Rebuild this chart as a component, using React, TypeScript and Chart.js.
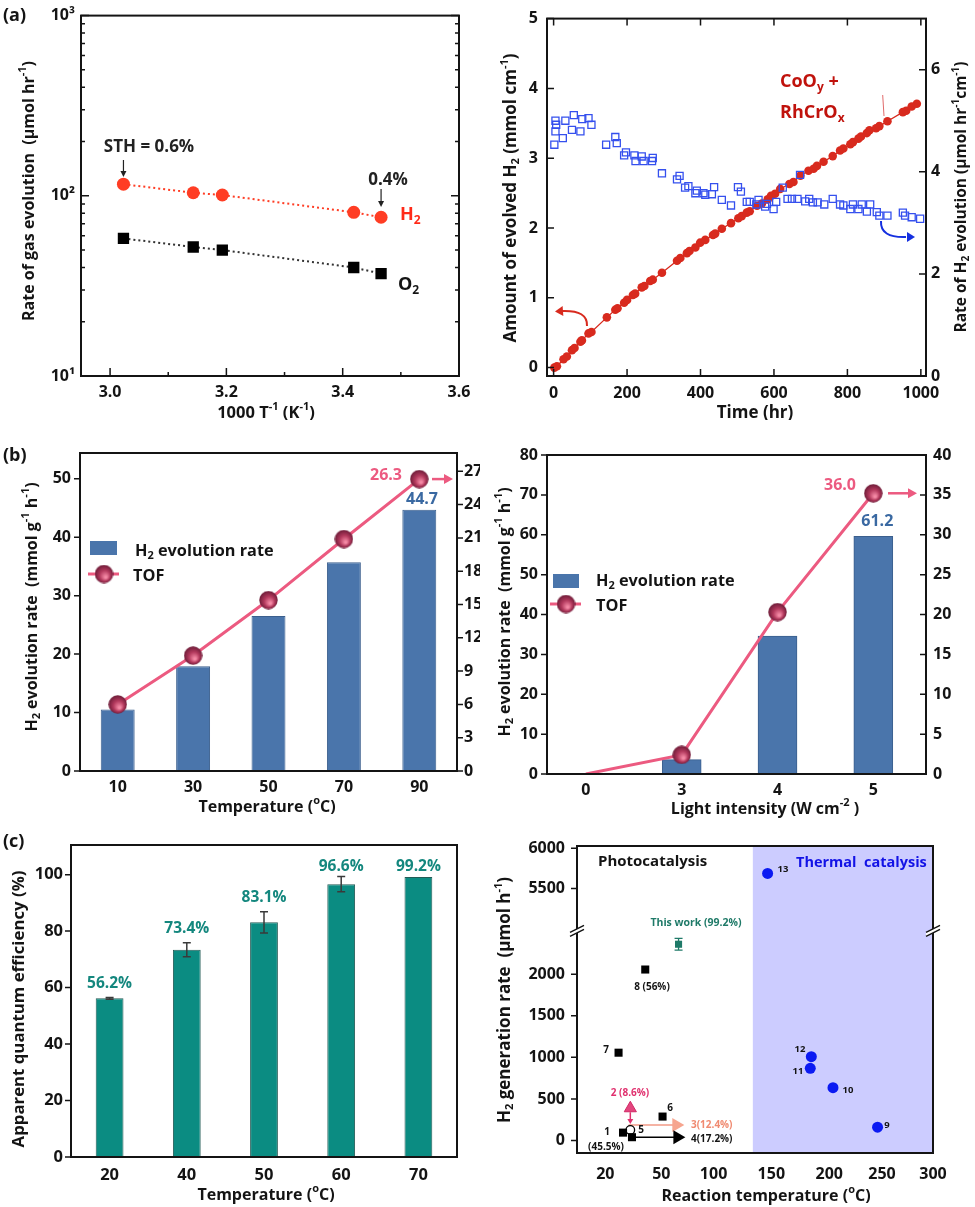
import React, { useEffect, useRef } from 'react';
import { Chart, registerables, LinearScale } from 'chart.js';

Chart.register(...registerables);

const FONT = '"Open Sans", "DejaVu Sans", Arial, sans-serif';
const INK = '#141414';

/* ================= DATA ================= */
// (a) left : rate vs 1000/T
const ARR_INV_T = [3.023, 3.143, 3.193, 3.419, 3.466];
const ARR_H2_RATE = [116, 104, 101, 81, 76];
const ARR_O2_RATE = [58, 52, 50, 40, 37];
const ARR_X_TICKS = [3.0, 3.2, 3.4, 3.6];
const ARR_X_MINOR = [3.1, 3.3, 3.5];
const ARR_Y_TICKS = [10, 100, 1000];
const ARR_Y_MINOR = [20, 30, 40, 50, 60, 70, 80, 90, 200, 300, 400, 500, 600, 700, 800, 900];
const ARR_Y_LABELS: Record<number, string> = { 10: '10¹', 100: '10²', 1000: '10³' };

// (a) right : long-term stability
const CUM_TIME = [2, 9, 27, 36, 50, 57, 73, 77, 95, 103, 145, 168, 174, 192, 200, 216, 222, 240, 247, 263, 270, 295, 336, 345, 363, 370, 386, 399, 413, 434, 440, 458, 483, 503, 512, 526, 534, 554, 567, 583, 592, 603, 617, 642, 653, 672, 694, 708, 717, 735, 760, 780, 789, 808, 815, 830, 837, 853, 860, 878, 887, 909, 951, 960, 975, 989];
const CUM_H2 = [0, 0.02, 0.12, 0.16, 0.25, 0.28, 0.37, 0.39, 0.49, 0.51, 0.72, 0.83, 0.85, 0.93, 0.97, 1.04, 1.06, 1.15, 1.17, 1.24, 1.26, 1.36, 1.53, 1.57, 1.64, 1.67, 1.72, 1.79, 1.83, 1.90, 1.92, 1.99, 2.07, 2.14, 2.17, 2.22, 2.24, 2.32, 2.35, 2.41, 2.46, 2.49, 2.56, 2.63, 2.66, 2.75, 2.82, 2.85, 2.89, 2.95, 3.03, 3.11, 3.14, 3.20, 3.23, 3.28, 3.31, 3.36, 3.40, 3.43, 3.46, 3.53, 3.66, 3.68, 3.74, 3.78];
const RATE_TIME = [2, 5, 7, 5, 25, 32, 50, 55, 73, 78, 95, 103, 143, 168, 172, 192, 197, 220, 223, 240, 245, 268, 270, 295, 336, 343, 358, 367, 386, 390, 408, 413, 431, 437, 458, 483, 502, 510, 526, 534, 552, 558, 576, 581, 599, 606, 624, 637, 649, 664, 671, 685, 696, 706, 719, 737, 760, 780, 789, 808, 815, 830, 839, 853, 862, 880, 887, 909, 951, 957, 975, 998];
const RATE_H2 = [4.53, 4.79, 4.92, 5.0, 4.66, 5.0, 4.82, 5.11, 4.79, 5.03, 5.05, 4.92, 4.53, 4.68, 4.56, 4.32, 4.38, 4.32, 4.21, 4.30, 4.21, 4.21, 4.27, 3.97, 3.85, 3.92, 3.69, 3.72, 3.58, 3.63, 3.58, 3.55, 3.56, 3.70, 3.45, 3.34, 3.70, 3.61, 3.41, 3.41, 3.36, 3.45, 3.32, 3.37, 3.27, 3.41, 3.69, 3.47, 3.47, 3.47, 3.94, 3.42, 3.47, 3.40, 3.40, 3.36, 3.47, 3.36, 3.34, 3.27, 3.36, 3.27, 3.36, 3.22, 3.36, 3.21, 3.14, 3.14, 3.20, 3.14, 3.11, 3.08];
const TIME_TICKS = [0, 200, 400, 600, 800, 1000];
const CUM_TICKS = [0, 1, 2, 3, 4, 5];
const RATE_TICKS = [0, 2, 4, 6];

// (b) left : temperature dependence
const TEMP_LABELS = ['10', '30', '50', '70', '90'];
const TEMP_RATE = [10.5, 17.9, 26.5, 35.7, 44.7];
const TEMP_TOF = [6.0, 10.4, 15.4, 20.9, 26.3];
const TEMP_RATE_TICKS = [0, 10, 20, 30, 40, 50];
const TEMP_TOF_TICKS = [0, 3, 6, 9, 12, 15, 18, 21, 24, 27];

// (b) right : light intensity dependence
const LIGHT_LABELS = ['0', '3', '4', '5'];
const LIGHT_RATE = [0, 3.6, 34.6, 59.6];
const LIGHT_TOF = [0, 2.4, 20.3, 35.2];
const LIGHT_RATE_TICKS = [0, 10, 20, 30, 40, 50, 60, 70, 80];
const LIGHT_TOF_TICKS = [0, 5, 10, 15, 20, 25, 30, 35, 40];

// (c) left : apparent quantum efficiency
const AQE_LABELS = ['20', '40', '50', '60', '70'];
const AQE_VALUES = [56.2, 73.4, 83.1, 96.6, 99.2];
const AQE_ERR = [0.3, 2.5, 3.8, 2.7, 0];
const AQE_TICKS = [0, 20, 40, 60, 80, 100];

// (c) right : comparison with literature
const PHOTO_T = [27.1, 29.5, 34.3, 41.4, 51.2];
const PHOTO_RATE = [1056, 95, 40, 2056, 288];
const REF5_T = [33.4];
const REF5_RATE = [127];
const REF2_T = [33.4];
const REF2_RATE = [388];
const REF3_T = [32.5, 72];
const REF3_RATE = [187, 187];
const REF4_T = [34.3, 73];
const REF4_RATE = [40, 40];
const WORK_T = [66.5];
const WORK_RATE = [2360];
const WORK_ERR = [70];
const THERMAL_T = [146.8, 184.5, 183.6, 203.5, 245.8];
const THERMAL_RATE = [5687, 1008, 868, 636, 160];
const THERMAL_FROM_T = 134;
const C2_X_TICKS = [20, 50, 100, 150, 200, 250, 300];
const C2_Y_TICKS = [0, 500, 1000, 1500, 2000, 5500, 6000];
// irregular temperature axis and broken rate axis (value knots -> axis fraction)
const C2_TEMP_KNOTS = [5, 20, 50, 100, 150, 200, 250, 300];
const C2_TEMP_FRACS = [0, 0.0795, 0.2368, 0.3837, 0.5458, 0.7087, 0.8567, 1];
const C2_RATE_KNOTS = [-150, 2508, 4958, 6029];
const C2_RATE_FRACS = [0, 0.7201, 0.7201, 1];

/* ================= helpers ================= */
function mapPw(v: number, from: number[], to: number[]) {
  const n = from.length;
  if (v <= from[0]) {
    const k = (to[1] - to[0]) / ((from[1] - from[0]) || 1);
    return to[0] + (v - from[0]) * k;
  }
  for (let i = 1; i < n; i++) {
    if (v <= from[i]) {
      const d = from[i] - from[i - 1];
      if (d === 0) return to[i];
      return to[i - 1] + ((v - from[i - 1]) / d) * (to[i] - to[i - 1]);
    }
  }
  const k = (to[n - 1] - to[n - 2]) / ((from[n - 1] - from[n - 2]) || 1);
  return to[n - 1] + (v - from[n - 1]) * k;
}

function makePiecewise(id: string, vals: number[], fracs: number[]) {
  class Pw extends LinearScale {
    getPixelForValue(value: number) {
      return (this as any).getPixelForDecimal(mapPw(value, vals, fracs));
    }
    getValueForPixel(pixel: number) {
      return mapPw((this as any).getDecimalForPixel(pixel), fracs, vals);
    }
  }
  (Pw as any).id = id;
  (Pw as any).defaults = {};
  return Pw;
}
const PwTemp = makePiecewise('pwtemp', C2_TEMP_KNOTS, C2_TEMP_FRACS);
const PwRate = makePiecewise('pwrate', C2_RATE_KNOTS, C2_RATE_FRACS);
Chart.register(PwTemp as any, PwRate as any);

type Rect = { x: number; y: number; w: number; h: number };
type Area = { L: number; R: number; T: number; B: number };

function pinned(rect: Rect, area: Area, hasRight: boolean) {
  return {
    padding: { top: area.T - rect.y, left: 0, bottom: 0, right: hasRight ? 0 : rect.x + rect.w - area.R },
    leftFit: (s: any) => { s.width = area.L - rect.x; },
    rightFit: (s: any) => { s.width = rect.x + rect.w - area.R; },
    bottomFit: (s: any) => { s.height = rect.y + rect.h - area.B; },
  };
}

const fixTicks = (vals: number[]) => (s: any) => { s.ticks = vals.map((v) => ({ value: v })); };

function axis(extra: any, size: number, padding: number, callback?: (v: any, i: number) => string) {
  const t: any = { font: { family: FONT, size, weight: 'bold' }, color: INK, padding, autoSkip: false, maxRotation: 0, minRotation: 0 };
  if (callback) t.callback = callback;
  return { grid: { display: false, drawTicks: false }, border: { display: false }, ...extra, ticks: t };
}

function pageArea(c: any, rect: Rect): Area {
  const a = c.chartArea;
  return { L: a.left + rect.x, R: a.right + rect.x, T: a.top + rect.y, B: a.bottom + rect.y };
}

function overlay(rect: Rect, after: (ctx: CanvasRenderingContext2D, c: any) => void, before?: (ctx: CanvasRenderingContext2D, c: any) => void) {
  return {
    id: 'overlay',
    beforeDatasetsDraw(c: any) {
      if (!before) return;
      const ctx = c.ctx; ctx.save(); ctx.translate(-rect.x, -rect.y); before(ctx, c); ctx.restore();
    },
    afterDraw(c: any) {
      const ctx = c.ctx; ctx.save(); ctx.translate(-rect.x, -rect.y); after(ctx, c); ctx.restore();
    },
  };
}

function parseRich(s: string) {
  const out: { t: string; m: number }[] = [];
  let i = 0; let buf = '';
  while (i < s.length) {
    const ch = s[i];
    if ((ch === '_' || ch === '^') && s[i + 1] === '{') {
      if (buf) { out.push({ t: buf, m: 0 }); buf = ''; }
      const end = s.indexOf('}', i + 2);
      out.push({ t: s.slice(i + 2, end), m: ch === '^' ? 1 : -1 });
      i = end + 1;
    } else { buf += ch; i++; }
  }
  if (buf) out.push({ t: buf, m: 0 });
  return out;
}

function rich(ctx: CanvasRenderingContext2D, text: string, x: number, y: number, size: number, color: string, align = 'center', rot = 0, weight = 'bold') {
  const segs = parseRich(text);
  ctx.save();
  ctx.translate(x, y);
  if (rot) ctx.rotate(rot);
  const f = (m: number) => `${weight} ${m === 0 ? size : Math.round(size * 0.66)}px ${FONT}`;
  let w = 0;
  for (const s of segs) { ctx.font = f(s.m); w += ctx.measureText(s.t).width; }
  let cx = align === 'center' ? -w / 2 : align === 'right' ? -w : 0;
  ctx.fillStyle = color; ctx.textAlign = 'left'; ctx.textBaseline = 'middle';
  for (const s of segs) {
    ctx.font = f(s.m);
    const dy = s.m === 1 ? -size * 0.36 : s.m === -1 ? size * 0.3 : 0;
    ctx.fillText(s.t, cx, dy);
    cx += ctx.measureText(s.t).width;
  }
  ctx.restore();
}

function frame(ctx: CanvasRenderingContext2D, a: Area, lw: number) {
  ctx.save(); ctx.strokeStyle = INK; ctx.lineWidth = lw;
  ctx.strokeRect(a.L, a.T, a.R - a.L, a.B - a.T);
  ctx.restore();
}

function hTicks(ctx: CanvasRenderingContext2D, ys: number[], x0: number, len: number, lw = 1.5) {
  ctx.save(); ctx.strokeStyle = INK; ctx.lineWidth = lw; ctx.beginPath();
  for (const y of ys) { ctx.moveTo(x0, y); ctx.lineTo(x0 + len, y); }
  ctx.stroke(); ctx.restore();
}
function vTicks(ctx: CanvasRenderingContext2D, xs: number[], y0: number, len: number, lw = 1.5) {
  ctx.save(); ctx.strokeStyle = INK; ctx.lineWidth = lw; ctx.beginPath();
  for (const x of xs) { ctx.moveTo(x, y0); ctx.lineTo(x, y0 + len); }
  ctx.stroke(); ctx.restore();
}

function arrowHead(ctx: CanvasRenderingContext2D, x: number, y: number, ang: number, len: number, hw: number, color: string) {
  ctx.save(); ctx.fillStyle = color; ctx.beginPath();
  ctx.moveTo(x, y);
  ctx.lineTo(x - len * Math.cos(ang) + hw * Math.sin(ang), y - len * Math.sin(ang) - hw * Math.cos(ang));
  ctx.lineTo(x - len * Math.cos(ang) - hw * Math.sin(ang), y - len * Math.sin(ang) + hw * Math.cos(ang));
  ctx.closePath(); ctx.fill(); ctx.restore();
}

function arrow(ctx: CanvasRenderingContext2D, x1: number, y1: number, x2: number, y2: number, color: string, lw: number, len: number, hw: number, headColor?: string) {
  const ang = Math.atan2(y2 - y1, x2 - x1);
  ctx.save(); ctx.strokeStyle = color; ctx.lineWidth = lw; ctx.beginPath();
  ctx.moveTo(x1, y1); ctx.lineTo(x2 - Math.cos(ang) * len * 0.7, y2 - Math.sin(ang) * len * 0.7); ctx.stroke();
  ctx.restore();
  arrowHead(ctx, x2, y2, ang, len, hw, headColor || color);
}

function curvedArrow(ctx: CanvasRenderingContext2D, x1: number, y1: number, cx: number, cy: number, x2: number, y2: number, tipX: number, tipY: number, color: string, lw: number) {
  ctx.save(); ctx.strokeStyle = color; ctx.lineWidth = lw; ctx.beginPath();
  ctx.moveTo(x1, y1); ctx.quadraticCurveTo(cx, cy, x2, y2); ctx.stroke(); ctx.restore();
  arrowHead(ctx, tipX, tipY, Math.atan2(tipY - y2, tipX - x2), 8, 5, color);
}

let sphereCache: HTMLCanvasElement | null = null;
function sphere(): HTMLCanvasElement {
  if (sphereCache) return sphereCache;
  const d = 19;
  const c = document.createElement('canvas'); c.width = d; c.height = d;
  const g = c.getContext('2d')!; const r = d / 2;
  const grad = g.createRadialGradient(r * 1.2, r * 1.35, r * 0.1, r, r, r);
  grad.addColorStop(0, '#f58aa6'); grad.addColorStop(0.5, '#b3395d'); grad.addColorStop(1, '#6a1a36');
  g.fillStyle = grad; g.beginPath(); g.arc(r, r, r - 0.3, 0, Math.PI * 2); g.fill();
  sphereCache = c; return c;
}

const baseOpts = (pad: any) => ({
  animation: false as const, responsive: false, events: [] as any[],
  layout: { padding: pad },
  plugins: { legend: { display: false }, tooltip: { enabled: false } },
});

/* ================= panels ================= */
const R_A1: Rect = { x: 0, y: 0, w: 480, h: 420 };
const A_A1: Area = { L: 81, R: 459, T: 14, B: 376 };
function buildA1(canvas: HTMLCanvasElement) {
  const rect = R_A1; const pin = pinned(rect, A_A1, false);
  const X = (c: any, v: number) => c.scales.x.getPixelForValue(v) + rect.x;
  const Y = (c: any, v: number) => c.scales.y.getPixelForValue(v) + rect.y;
  return new Chart(canvas, {
    type: 'scatter',
    data: {
      datasets: [
        { data: ARR_INV_T.map((x, i) => ({ x, y: ARR_H2_RATE[i] })), showLine: true, borderColor: '#ff3d24', borderWidth: 2, borderDash: [2, 3], pointStyle: 'circle', pointRadius: 6.5, pointBackgroundColor: '#ff3d24', pointBorderWidth: 0 },
        { data: ARR_INV_T.map((x, i) => ({ x, y: ARR_O2_RATE[i] })), showLine: true, borderColor: '#333333', borderWidth: 2, borderDash: [2, 3], pointStyle: 'rect', pointRadius: 8, pointBackgroundColor: '#000000', pointBorderWidth: 0 },
      ],
    } as any,
    options: {
      ...baseOpts(pin.padding),
      scales: {
        x: axis({ type: 'linear', min: 2.95, max: 3.6, afterBuildTicks: fixTicks(ARR_X_TICKS), afterFit: pin.bottomFit }, 16, 7, (v) => Number(v).toFixed(1)),
        y: axis({ type: 'logarithmic', min: 10, max: 1000, afterBuildTicks: fixTicks(ARR_Y_TICKS), afterFit: pin.leftFit }, 16, 6, (v) => ARR_Y_LABELS[Number(v)] || ''),
      },
    } as any,
    plugins: [overlay(rect, (ctx, c) => {
      const a = pageArea(c, rect);
      frame(ctx, a, 2);
      const ys = ARR_Y_TICKS.map((v) => Y(c, v)); const ym = ARR_Y_MINOR.map((v) => Y(c, v));
      hTicks(ctx, ys, a.L, 8); hTicks(ctx, ys, a.R, -8); hTicks(ctx, ym, a.L, 4); hTicks(ctx, ym, a.R, -4);
      vTicks(ctx, ARR_X_TICKS.map((v) => X(c, v)), a.B, -8); vTicks(ctx, ARR_X_MINOR.map((v) => X(c, v)), a.B, -4);
      rich(ctx, '(a)', 3, 16, 18, INK, 'left');
      rich(ctx, 'STH = 0.6%', 149, 147, 17, '#222', 'center');
      arrow(ctx, X(c, ARR_INV_T[0]), 160, X(c, ARR_INV_T[0]), 177, '#222', 1.2, 6, 3);
      rich(ctx, '0.4%', 388, 180, 17, '#222', 'center');
      arrow(ctx, X(c, ARR_INV_T[4]), 189, X(c, ARR_INV_T[4]), 207, '#222', 1.2, 6, 3);
      rich(ctx, 'H_{2}', 400, 215, 18, '#ff2a18', 'left');
      rich(ctx, 'O_{2}', 398, 285, 18, INK, 'left');
      rich(ctx, '1000 T^{-1} (K^{-1})', 266, 413, 16.5, INK, 'center');
      rich(ctx, 'Rate of gas evolution  (µmol hr^{-1})', 29, 191, 16, INK, 'center', -Math.PI / 2);
    })],
  });
}

const R_A2: Rect = { x: 480, y: 0, w: 495, h: 420 };
const A_A2: Area = { L: 547, R: 926, T: 14, B: 376 };
function buildA2(canvas: HTMLCanvasElement) {
  const rect = R_A2; const pin = pinned(rect, A_A2, true);
  const X = (c: any, v: number) => c.scales.x.getPixelForValue(v) + rect.x;
  const Y = (c: any, id: string, v: number) => c.scales[id].getPixelForValue(v) + rect.y;
  return new Chart(canvas, {
    type: 'scatter',
    data: {
      datasets: [
        { data: RATE_TIME.map((x, i) => ({ x, y: RATE_H2[i] })), yAxisID: 'y1', order: 0, pointStyle: 'rect', pointRadius: 5, pointBackgroundColor: 'rgba(255,255,255,0)', pointBorderColor: '#3550ee', pointBorderWidth: 1.3 },
        { data: CUM_TIME.map((x, i) => ({ x, y: CUM_H2[i] })), yAxisID: 'y', order: 1, showLine: true, borderColor: '#d82a1e', borderWidth: 1.3, pointStyle: 'circle', pointRadius: 4.3, pointBackgroundColor: '#d82a1e', pointBorderWidth: 0 },
      ],
    } as any,
    options: {
      ...baseOpts(pin.padding),
      scales: {
        x: axis({ type: 'linear', min: -18, max: 1014, afterBuildTicks: fixTicks(TIME_TICKS), afterFit: pin.bottomFit }, 16, 8, (v) => String(v)),
        y: axis({ type: 'linear', position: 'left', min: -0.12, max: 5, afterBuildTicks: fixTicks(CUM_TICKS), afterFit: pin.leftFit }, 16, 9, (v) => String(v)),
        y1: axis({ type: 'linear', position: 'right', min: 0, max: 7, afterBuildTicks: fixTicks(RATE_TICKS), afterFit: pin.rightFit }, 16, 5, (v) => String(v)),
      },
    } as any,
    plugins: [overlay(rect, (ctx, c) => {
      const a = pageArea(c, rect);
      frame(ctx, a, 2);
      const xs = TIME_TICKS.map((v) => X(c, v));
      vTicks(ctx, xs, a.T, 7); vTicks(ctx, xs, a.B, -7);
      hTicks(ctx, CUM_TICKS.map((v) => Y(c, 'y', v)), a.L, 7);
      hTicks(ctx, RATE_TICKS.map((v) => Y(c, 'y1', v)), a.R, -7);
      rich(ctx, 'CoO_{y} +', 780, 82, 18, '#c0120c', 'left');
      rich(ctx, 'RhCrO_{x}', 780, 113, 18, '#c0120c', 'left');
      ctx.save(); ctx.strokeStyle = '#e06a6a'; ctx.lineWidth = 1; ctx.beginPath(); ctx.moveTo(882.7, 95); ctx.lineTo(884, 116); ctx.stroke(); ctx.restore();
      curvedArrow(ctx, 587, 326, 588, 310, 562, 311, 555, 311.5, '#d82a1e', 2);
      curvedArrow(ctx, 881, 221, 880, 238, 906, 237, 915, 237, '#1530e0', 2);
      rich(ctx, 'Time (hr)', 755, 413, 17, INK, 'center');
      rich(ctx, 'Amount of evolved H_{2} (mmol cm^{-1})', 511, 198, 17, INK, 'center', -Math.PI / 2);
      rich(ctx, 'Rate of H_{2} evolution (µmol hr^{-1}cm^{-1})', 962, 197, 15.5, INK, 'center', -Math.PI / 2);
    })],
  });
}

const PINK = '#ec5a80';
const BAR_BLUE = '#4a75ab';
const LABEL_BLUE = '#3a69a2';

const R_B1: Rect = { x: 0, y: 420, w: 480, h: 400 };
const A_B1: Area = { L: 80, R: 457, T: 453, B: 771 };
function buildB1(canvas: HTMLCanvasElement) {
  const rect = R_B1; const pin = pinned(rect, A_B1, true);
  const Y = (c: any, id: string, v: number) => c.scales[id].getPixelForValue(v) + rect.y;
  return new Chart(canvas, {
    type: 'bar',
    data: {
      labels: TEMP_LABELS,
      datasets: [
        { type: 'bar', data: TEMP_RATE, yAxisID: 'y', order: 1, backgroundColor: BAR_BLUE, borderColor: '#3b5f8d', borderWidth: 1, barPercentage: 0.45, categoryPercentage: 1 },
        { type: 'line', data: TEMP_TOF, yAxisID: 'y1', order: 0, borderColor: PINK, borderWidth: 3, pointStyle: sphere(), pointRadius: 9 },
      ],
    } as any,
    options: {
      ...baseOpts(pin.padding),
      scales: {
        x: axis({ type: 'category', afterFit: pin.bottomFit }, 16, 7),
        y: axis({ type: 'linear', position: 'left', min: 0, max: 54.4, afterBuildTicks: fixTicks(TEMP_RATE_TICKS), afterFit: pin.leftFit }, 16, 9, (v) => String(v)),
        y1: axis({ type: 'linear', position: 'right', min: 0, max: 28.65, afterBuildTicks: fixTicks(TEMP_TOF_TICKS), afterFit: pin.rightFit }, 16, 7, (v) => String(v)),
      },
    } as any,
    plugins: [overlay(rect, (ctx, c) => {
      const a = pageArea(c, rect);
      frame(ctx, a, 2);
      hTicks(ctx, TEMP_RATE_TICKS.map((v) => Y(c, 'y', v)), a.L, -6);
      hTicks(ctx, TEMP_TOF_TICKS.map((v) => Y(c, 'y1', v)), a.R, 6);
      rich(ctx, '(b)', 3, 456, 18, INK, 'left');
      ctx.save(); ctx.fillStyle = BAR_BLUE; ctx.fillRect(90, 541, 27, 14); ctx.restore();
      rich(ctx, 'H_{2} evolution rate', 135, 551, 16.3, INK, 'left');
      ctx.save(); ctx.strokeStyle = PINK; ctx.lineWidth = 3; ctx.beginPath(); ctx.moveTo(88, 574); ctx.lineTo(119, 574); ctx.stroke(); ctx.restore();
      ctx.drawImage(sphere(), 104 - 9.5, 574 - 9.5);
      rich(ctx, 'TOF', 133, 576, 16.3, INK, 'left');
      const last = TEMP_TOF.length - 1;
      const ty = Y(c, 'y1', TEMP_TOF[last]);
      rich(ctx, TEMP_TOF[last].toFixed(1), 402, ty - 4, 16, PINK, 'right');
      rich(ctx, TEMP_RATE[last].toFixed(1), 422, Y(c, 'y', TEMP_RATE[last]) - 10, 16, LABEL_BLUE, 'center');
      arrow(ctx, 432, ty, 453, ty, PINK, 2.5, 9, 5);
      rich(ctx, 'H_{2} evolution rate  (mmol g^{-1} h^{-1})', 32, 607, 16, INK, 'center', -Math.PI / 2);
      rich(ctx, 'Temperature (^{o}C)', 267, 807, 16, INK, 'center');
    })],
  });
}

const R_B2: Rect = { x: 480, y: 420, w: 495, h: 400 };
const A_B2: Area = { L: 547, R: 926, T: 455, B: 774 };
function buildB2(canvas: HTMLCanvasElement) {
  const rect = R_B2; const pin = pinned(rect, A_B2, true);
  const Y = (c: any, id: string, v: number) => c.scales[id].getPixelForValue(v) + rect.y;
  const X = (c: any, v: number) => c.scales.x.getPixelForValue(v) + rect.x;
  return new Chart(canvas, {
    type: 'bar',
    data: {
      datasets: [
        { type: 'bar', data: LIGHT_RATE.map((y, i) => ({ x: i, y })), yAxisID: 'y', order: 1, backgroundColor: BAR_BLUE, borderColor: '#3b5f8d', borderWidth: 1, barThickness: 39 },
        { type: 'line', data: LIGHT_TOF.map((y, i) => ({ x: i, y })), yAxisID: 'y1', order: 0, borderColor: PINK, borderWidth: 3, pointStyle: sphere(), pointRadius: LIGHT_TOF.map((v, i) => (i === 0 ? 0 : 9)) },
      ],
    } as any,
    options: {
      ...baseOpts(pin.padding),
      scales: {
        x: axis({ type: 'linear', offset: false, min: -0.406, max: 3.55, afterBuildTicks: fixTicks(LIGHT_LABELS.map((_, i) => i)), afterFit: pin.bottomFit }, 16, 7, (v) => LIGHT_LABELS[Math.round(Number(v))] ?? ''),
        y: axis({ type: 'linear', position: 'left', min: 0, max: 80, afterBuildTicks: fixTicks(LIGHT_RATE_TICKS), afterFit: pin.leftFit }, 16, 9, (v) => String(v)),
        y1: axis({ type: 'linear', position: 'right', min: 0, max: 40, afterBuildTicks: fixTicks(LIGHT_TOF_TICKS), afterFit: pin.rightFit }, 16, 7, (v) => String(v)),
      },
    } as any,
    plugins: [overlay(rect, (ctx, c) => {
      const a = pageArea(c, rect);
      frame(ctx, a, 2);
      hTicks(ctx, LIGHT_RATE_TICKS.map((v) => Y(c, 'y', v)), a.L, -6);
      hTicks(ctx, LIGHT_TOF_TICKS.map((v) => Y(c, 'y1', v)), a.R, -6);
      ctx.save(); ctx.fillStyle = BAR_BLUE; ctx.fillRect(553, 574, 26, 14); ctx.restore();
      rich(ctx, 'H_{2} evolution rate', 596, 581, 16.3, INK, 'left');
      ctx.save(); ctx.strokeStyle = PINK; ctx.lineWidth = 3; ctx.beginPath(); ctx.moveTo(550, 604); ctx.lineTo(581, 604); ctx.stroke(); ctx.restore();
      ctx.drawImage(sphere(), 566 - 9.5, 604 - 9.5);
      rich(ctx, 'TOF', 596, 606, 16.3, INK, 'left');
      const last = LIGHT_TOF.length - 1;
      const ty = Y(c, 'y1', LIGHT_TOF[last]);
      rich(ctx, '36.0', 856, ty - 8, 16, PINK, 'right');
      rich(ctx, '61.2', X(c, last) + 4, Y(c, 'y', LIGHT_RATE[last]) - 15, 16, LABEL_BLUE, 'center');
      arrow(ctx, 888, ty, 917, ty, PINK, 2.5, 9, 5);
      rich(ctx, 'H_{2} evolution rate  (mmol g^{-1} h^{-1})', 505, 612, 16, INK, 'center', -Math.PI / 2);
      rich(ctx, 'Light intensity (W cm^{-2} )', 765, 809, 16, INK, 'center');
    })],
  });
}

const TEAL = '#0b8c82';
const TEAL_TEXT = '#14877e';
const R_C1: Rect = { x: 0, y: 820, w: 480, h: 387 };
const A_C1: Area = { L: 71, R: 457, T: 845, B: 1157 };
function buildC1(canvas: HTMLCanvasElement) {
  const rect = R_C1; const pin = pinned(rect, A_C1, false);
  const Y = (c: any, v: number) => c.scales.y.getPixelForValue(v) + rect.y;
  return new Chart(canvas, {
    type: 'bar',
    data: {
      labels: AQE_LABELS,
      datasets: [{ data: AQE_VALUES, backgroundColor: TEAL, borderColor: '#245b56', borderWidth: 1, barPercentage: 0.36, categoryPercentage: 1 }],
    } as any,
    options: {
      ...baseOpts(pin.padding),
      scales: {
        x: axis({ type: 'category', afterFit: pin.bottomFit }, 16.5, 8),
        y: axis({ type: 'linear', min: 0, max: 110.5, afterBuildTicks: fixTicks(AQE_TICKS), afterFit: pin.leftFit }, 16.5, 8, (v) => String(v)),
      },
    } as any,
    plugins: [overlay(rect, (ctx, c) => {
      const a = pageArea(c, rect);
      frame(ctx, a, 2);
      hTicks(ctx, AQE_TICKS.map((v) => Y(c, v)), a.L, -6);
      const meta = c.getDatasetMeta(0);
      AQE_VALUES.forEach((v, i) => {
        const x = meta.data[i].x + rect.x;
        const e = AQE_ERR[i];
        if (e > 0) {
          ctx.save(); ctx.strokeStyle = '#3a3a3a'; ctx.lineWidth = 1.5; ctx.beginPath();
          ctx.moveTo(x, Y(c, v - e)); ctx.lineTo(x, Y(c, v + e));
          ctx.moveTo(x - 4, Y(c, v - e)); ctx.lineTo(x + 4, Y(c, v - e));
          ctx.moveTo(x - 4, Y(c, v + e)); ctx.lineTo(x + 4, Y(c, v + e));
          ctx.stroke(); ctx.restore();
        }
        const ly = Math.max(Y(c, v + e) - 14, a.T + 22);
        rich(ctx, v.toFixed(1) + '%', x, ly, 15.5, TEAL_TEXT, 'center');
      });
      rich(ctx, '(c)', 3, 842, 18, INK, 'left');
      rich(ctx, 'Apparent quantum efficiency (%)', 19, 1009, 16.8, INK, 'center', -Math.PI / 2);
      rich(ctx, 'Temperature (^{o}C)', 266, 1195, 16, INK, 'center');
    })],
  });
}

const R_C2: Rect = { x: 480, y: 820, w: 495, h: 387 };
const A_C2: Area = { L: 577, R: 933, T: 846, B: 1153 };
function buildC2(canvas: HTMLCanvasElement) {
  const rect = R_C2; const pin = pinned(rect, A_C2, false);
  const X = (c: any, v: number) => c.scales.x.getPixelForValue(v) + rect.x;
  const Y = (c: any, v: number) => c.scales.y.getPixelForValue(v) + rect.y;
  const pts = (xs: number[], ys: number[]) => xs.map((x, i) => ({ x, y: ys[i] }));
  return new Chart(canvas, {
    type: 'scatter',
    data: {
      datasets: [
        { data: pts(PHOTO_T, PHOTO_RATE), pointStyle: 'rect', pointRadius: 5.7, pointBackgroundColor: '#000', pointBorderWidth: 0 },
        { data: pts(REF5_T, REF5_RATE), pointStyle: 'circle', pointRadius: 4.3, pointBackgroundColor: '#fff', pointBorderColor: '#000', pointBorderWidth: 1.3 },
        { data: pts(REF2_T, REF2_RATE), pointStyle: 'triangle', pointRadius: 7, pointBackgroundColor: '#e3457e', pointBorderColor: '#d02a66', pointBorderWidth: 1 },
        { data: pts(WORK_T, WORK_RATE), pointStyle: 'rect', pointRadius: 5, pointBackgroundColor: '#1f7a68', pointBorderWidth: 0 },
        { data: pts(THERMAL_T, THERMAL_RATE), pointStyle: 'circle', pointRadius: 5.5, pointBackgroundColor: '#0b1af2', pointBorderWidth: 0 },
      ],
    } as any,
    options: {
      ...baseOpts(pin.padding),
      scales: {
        x: axis({ type: 'pwtemp', position: 'bottom', min: C2_TEMP_KNOTS[0], max: C2_TEMP_KNOTS[C2_TEMP_KNOTS.length - 1], afterBuildTicks: fixTicks(C2_X_TICKS), afterFit: pin.bottomFit }, 16, 12, (v) => String(v)),
        y: axis({ type: 'pwrate', position: 'left', min: C2_RATE_KNOTS[0], max: C2_RATE_KNOTS[C2_RATE_KNOTS.length - 1], afterBuildTicks: fixTicks(C2_Y_TICKS), afterFit: pin.leftFit }, 16, 12, (v) => String(v)),
      },
    } as any,
    plugins: [overlay(rect, (ctx, c) => {
      const a = pageArea(c, rect);
      frame(ctx, a, 2);
      hTicks(ctx, C2_Y_TICKS.map((v) => Y(c, v)), a.L, -6);
      // axis break marks
      const yb = Y(c, C2_RATE_KNOTS[1]);
      for (const xb of [a.L, a.R]) {
        ctx.save();
        ctx.fillStyle = '#fff'; ctx.beginPath();
        ctx.moveTo(xb - 7, yb + 4.5); ctx.lineTo(xb + 7, yb - 2.5); ctx.lineTo(xb + 7, yb - 6.5); ctx.lineTo(xb - 7, yb + 0.5); ctx.closePath(); ctx.fill();
        ctx.strokeStyle = INK; ctx.lineWidth = 1.5; ctx.beginPath();
        ctx.moveTo(xb - 7, yb + 4.5); ctx.lineTo(xb + 7, yb - 2.5);
        ctx.moveTo(xb - 7, yb + 0.5); ctx.lineTo(xb + 7, yb - 6.5);
        ctx.stroke(); ctx.restore();
      }
      // this work error bar
      const wx = X(c, WORK_T[0]);
      ctx.save(); ctx.strokeStyle = '#1f7a68'; ctx.lineWidth = 1.3; ctx.beginPath();
      const w1 = Y(c, WORK_RATE[0] - WORK_ERR[0]); const w2 = Y(c, WORK_RATE[0] + WORK_ERR[0]);
      ctx.moveTo(wx, w1); ctx.lineTo(wx, w2); ctx.moveTo(wx - 4, w1); ctx.lineTo(wx + 4, w1); ctx.moveTo(wx - 4, w2); ctx.lineTo(wx + 4, w2);
      ctx.stroke(); ctx.restore();
      // labels
      rich(ctx, 'Photocatalysis', 598, 862, 15, INK, 'left');
      rich(ctx, 'Thermal  catalysis', 796, 863, 14.5, '#1212e6', 'left');
      const s = 10;
      rich(ctx, '13', 783, 869, 9.5, INK, 'center');
      rich(ctx, '12', 800, 1049, 9.5, INK, 'center');
      rich(ctx, '11', 798, 1071, 9.5, INK, 'center');
      rich(ctx, '10', 848, 1090, 9.5, INK, 'center');
      rich(ctx, '9', 887, 1125, 9.5, INK, 'center');
      rich(ctx, '7', 606, 1050, s, INK, 'center');
      rich(ctx, '1', 607, 1132, s, INK, 'center');
      rich(ctx, '(45.5%)', 606, 1147, s, INK, 'center');
      rich(ctx, '5', 641, 1130, s, INK, 'center');
      rich(ctx, '6', 670, 1108, s, INK, 'center');
      rich(ctx, '8 (56%)', 652, 987, s, INK, 'center');
      rich(ctx, '2 (8.6%)', 630, 1093, s, '#e0306e', 'center');
      rich(ctx, '3(12.4%)', 691, 1125, s, '#f08a70', 'left');
      rich(ctx, '4(17.2%)', 691, 1139, s, INK, 'left');
      rich(ctx, 'This work (99.2%)', 696, 923, 10.5, '#1f7a68', 'center');
      rich(ctx, 'H_{2} generation rate  (µmol h^{-1})', 505, 1000, 17, INK, 'center', -Math.PI / 2);
      rich(ctx, 'Reaction temperature (^{o}C)', 766, 1196, 16, INK, 'center');
    }, (ctx, c) => {
      const a = pageArea(c, rect);
      const xs = X(c, THERMAL_FROM_T);
      ctx.save(); ctx.fillStyle = '#ccccff'; ctx.fillRect(xs, a.T, a.R - xs, a.B - a.T); ctx.restore();
      // reference arrows
      const y3 = Y(c, REF3_RATE[0]);
      arrow(ctx, X(c, REF3_T[0]), y3, X(c, REF3_T[1]), y3, '#f29a86', 1.5, 12, 7, '#f6a58f');
      const y4 = Y(c, REF4_RATE[0]);
      arrow(ctx, X(c, REF4_T[0]), y4, X(c, REF4_T[1]), y4, '#000', 1.5, 12, 7);
      const x2 = X(c, REF2_T[0]);
      arrow(ctx, x2, Y(c, REF2_RATE[0]) + 4, x2, y3 - 1, '#e0306e', 1.5, 5, 3);
    })],
  });
}

function ChartPanel({ rect, build }: { rect: Rect; build: (c: HTMLCanvasElement) => Chart }) {
  const ref = useRef<HTMLCanvasElement | null>(null);
  useEffect(() => {
    const ch = build(ref.current!);
    return () => ch.destroy();
  }, []);
  return (
    <canvas
      ref={ref}
      width={rect.w}
      height={rect.h}
      style={{ position: 'absolute', left: rect.x, top: rect.y, width: rect.w, height: rect.h }}
    />
  );
}

export default function App() {
  return (
    <div style={{ position: 'absolute', left: 0, top: 0, width: 975, height: 1207, background: '#fff', overflow: 'hidden' }}>
      <ChartPanel rect={R_A1} build={buildA1} />
      <ChartPanel rect={R_A2} build={buildA2} />
      <ChartPanel rect={R_B1} build={buildB1} />
      <ChartPanel rect={R_B2} build={buildB2} />
      <ChartPanel rect={R_C1} build={buildC1} />
      <ChartPanel rect={R_C2} build={buildC2} />
    </div>
  );
}
